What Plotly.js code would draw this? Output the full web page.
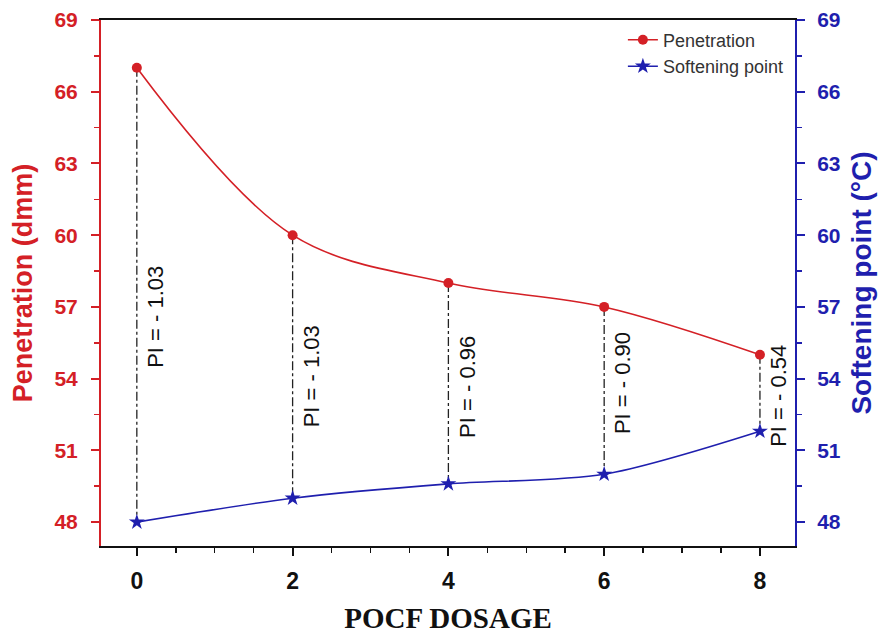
<!DOCTYPE html>
<html>
<head>
<meta charset="utf-8">
<script src="https://cdn.plot.ly/plotly-3.0.1.min.js"></script>
<style>html,body{margin:0;padding:0;background:#fff;}#chart{width:879px;height:634px;}</style>
</head>
<body>
<div id="chart"></div>
<script>
const dosage = [0, 2, 4, 6, 8];
const penetration = [67, 60, 58, 57, 55];
const softening = [48, 49, 49.6, 50, 51.8];
const piLabels = ["PI = - 1.03", "PI = - 1.03", "PI = - 0.96", "PI = - 0.90", "PI = - 0.54"];
const piLabelY = [56.6, 54.1, 53.65, 53.8, 53.3];
const yTicks = [48, 51, 54, 57, 60, 63, 66, 69];
const xTicks = [0, 2, 4, 6, 8];

const RED = '#d42026';
const BLUE = '#1f1fae';

// dash-dot connectors between the two series at each dosage
const cx = [], cy = [];
dosage.forEach((d, i) => { cx.push(d, d, null); cy.push(penetration[i], softening[i], null); });

const traces = [
  {x: cx, y: cy, mode: 'lines', line: {color: '#222', width: 1.3, dash: 'dashdot'}, showlegend: false, hoverinfo: 'skip'},
  {x: dosage, y: penetration, name: 'Penetration', mode: 'lines+markers',
   line: {color: RED, width: 1.6, shape: 'spline', smoothing: 1}, marker: {color: RED, size: 10, symbol: 'circle'}},
  {x: dosage, y: softening, name: 'Softening point', mode: 'lines+markers', yaxis: 'y2',
   line: {color: BLUE, width: 1.6, shape: 'spline', smoothing: 0.8}, marker: {color: BLUE, size: 12, symbol: 'star'}}
];

const annotations = dosage.map((d, i) => ({
  x: d, y: piLabelY[i], xref: 'x', yref: 'y', text: piLabels[i], showarrow: false,
  textangle: -90, xanchor: 'left', xshift: 4, font: {family: 'Arial, Liberation Sans', size: 22, color: '#111'}
}));

const layout = {
  width: 879, height: 634,
  margin: {l: 101, r: 84, t: 20, b: 88},
  paper_bgcolor: '#fff', plot_bgcolor: '#fff',
  showlegend: true,
  legend: {x: 0.752, y: 0.997, xanchor: 'left', yanchor: 'top', bgcolor: 'rgba(0,0,0,0)',
           font: {family: 'Arial, Liberation Sans', size: 18, color: '#333'}, tracegroupgap: 0},
  xaxis: {
    range: [-0.46, 8.45], tickvals: xTicks, ticktext: xTicks.map(String),
    showgrid: false, zeroline: false, showline: true, linecolor: '#111', linewidth: 2, mirror: true,
    ticks: 'outside', ticklen: 8, tickwidth: 2, tickcolor: '#111',
    minor: {dtick: 0.5, tick0: 0, ticks: 'outside', ticklen: 5, tickwidth: 1.5, tickcolor: '#111'},
    tickfont: {family: 'Liberation Sans Narrow, Arial Narrow, Arial', size: 23, color: '#111', weight: 'bold'},
    ticklabelstandoff: 5,
    title: {text: '<b>POCF DOSAGE</b>', font: {family: 'Liberation Serif, Times New Roman, serif', size: 29, color: '#111'}, standoff: 16}
  },
  yaxis: {
    range: [47, 69], tickvals: yTicks, ticktext: yTicks.map(String),
    showgrid: false, zeroline: false, showline: true, linecolor: RED, linewidth: 2,
    ticks: 'outside', ticklen: 8, tickwidth: 2, tickcolor: RED,
    minor: {dtick: 1.5, tick0: 48, ticks: 'outside', ticklen: 5, tickwidth: 1.5, tickcolor: RED},
    tickfont: {family: 'Arial, Liberation Sans', size: 21, color: RED, weight: 'bold'},
    ticklabelstandoff: 9,
    title: {text: '<b>Penetration (dmm)</b>', font: {family: 'Arial, Liberation Sans', size: 27, color: RED}, standoff: 14}
  },
  yaxis2: {
    range: [47, 69], tickvals: yTicks, ticktext: yTicks.map(String), overlaying: 'y', side: 'right',
    showgrid: false, zeroline: false, showline: true, linecolor: BLUE, linewidth: 2,
    ticks: 'outside', ticklen: 8, tickwidth: 2, tickcolor: BLUE,
    minor: {dtick: 1.5, tick0: 48, ticks: 'outside', ticklen: 5, tickwidth: 1.5, tickcolor: BLUE},
    tickfont: {family: 'Arial, Liberation Sans', size: 21, color: BLUE, weight: 'bold'},
    ticklabelstandoff: 8,
    title: {text: '<b>Softening point (°C)</b>', font: {family: 'Arial, Liberation Sans', size: 28, color: BLUE}, standoff: 12}
  },
  annotations: annotations
};

Plotly.newPlot('chart', traces, layout, {displayModeBar: false, staticPlot: true});
</script>
</body>
</html>
